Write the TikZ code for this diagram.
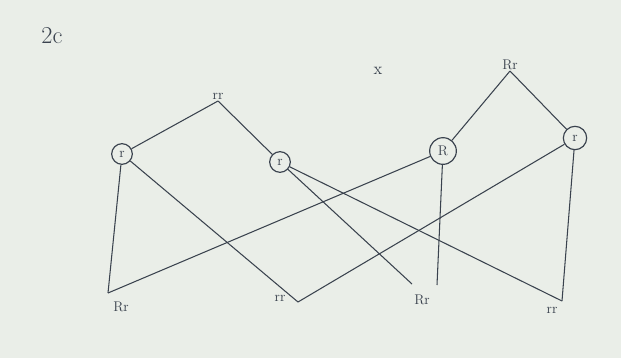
\documentclass[tikz,border=0pt]{standalone}
\definecolor{paper}{HTML}{EAEEE8}
\definecolor{ink}{HTML}{3A424E}

\begin{document}
\begin{tikzpicture}[x=0.03cm, y=-0.03cm,
    allele/.style={draw=ink, circle, line width=1pt, minimum size=0.62cm, inner sep=0pt, font=\large, text=ink},
    geno/.style={text=ink, font=\large, inner sep=1pt},
    link/.style={ink, line width=0.9pt}]
    % sheet
    \fill[paper] (0,0) rectangle (621,358);

    % heading and cross sign
    \node[geno, font=\huge] (title) at (52,36) {2c};
    \node[geno, font=\Large] (cross) at (378,71) {x};

    % parents
    \node[geno, anchor=south] (momG) at (218,101) {rr};
    \node[geno, anchor=south] (dadG) at (510,71) {Rr};

    % gametes
    \node[allele] (g1) at (122,154) {r};
    \node[allele] (g2) at (280,162) {r};
    \node[allele, minimum size=0.8cm] (g3) at (443,151) {R};
    \node[allele, minimum size=0.7cm] (g4) at (575,138) {r};

    % offspring
    \coordinate (e1) at (108,293);
    \coordinate (e2) at (298,302);
    \coordinate (e3a) at (412,284);
    \coordinate (e3b) at (437,285);
    \coordinate (e4) at (562,301);
    \node[geno] (k1) at (121,307) {Rr};
    \node[geno] (k2) at (280,298) {rr};
    \node[geno] (k3) at (422,300) {Rr};
    \node[geno] (k4) at (552,310) {rr};

    % parent to gametes
    \draw[link] (momG.south) -- (g1);
    \draw[link] (momG.south) -- (g2);
    \draw[link] (dadG.south) -- (g3);
    \draw[link] (dadG.south) -- (g4);

    % gametes to offspring
    \draw[link] (g1) -- (e1);
    \draw[link] (g3) -- (e1);
    \draw[link] (g1) -- (e2);
    \draw[link] (e2) -- (g4);
    \draw[link] (g2) -- (e3a);
    \draw[link] (g3) -- (e3b);
    \draw[link] (g2) -- (e4);
    \draw[link] (g4) -- (e4);
\end{tikzpicture}
\end{document}
